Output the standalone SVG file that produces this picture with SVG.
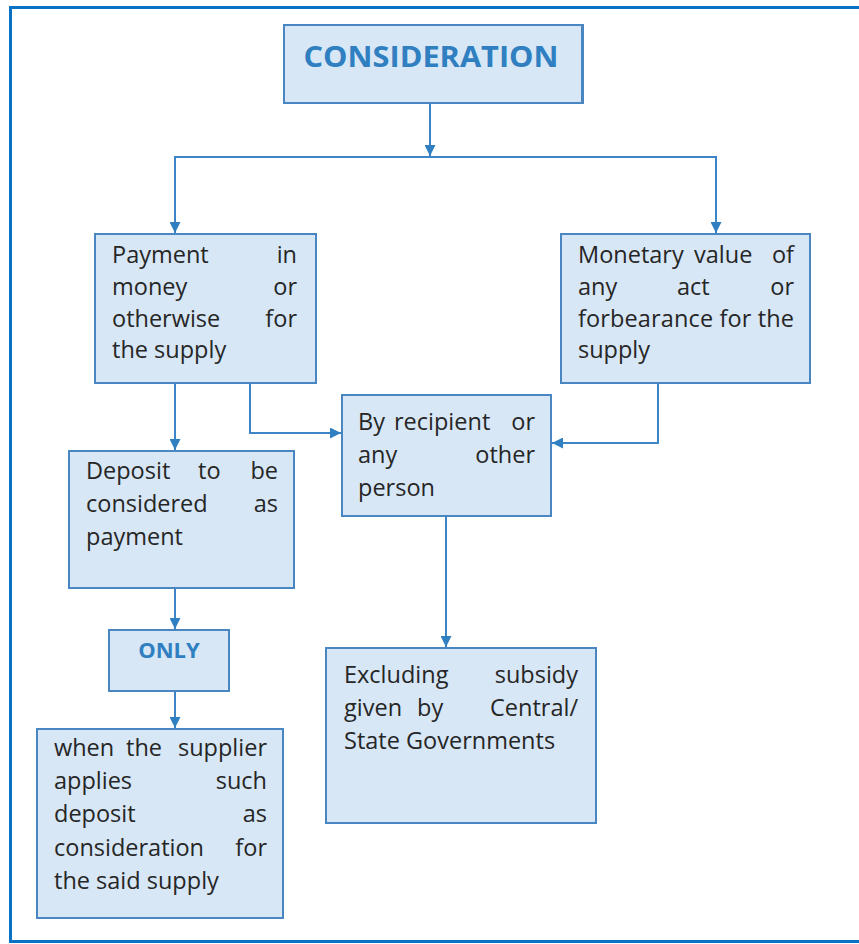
<svg xmlns="http://www.w3.org/2000/svg" width="859" height="944" viewBox="0 0 859 944">
  <style>
    .box { fill: #d7e7f6; stroke: #4a87c2; stroke-width: 2; }
    .txt { font-family: "Open Sans", "Liberation Sans", sans-serif; font-size: 23.5px; fill: #262626; }
    .end { text-anchor: end; }
    .head { font-family: "Open Sans", "Liberation Sans", sans-serif; font-weight: bold; fill: #2f7fc1; text-anchor: middle; }
    .wire { fill: none; stroke: #3d85c6; stroke-width: 2; }
  </style>
  <defs>
    <marker id="arrow" viewBox="0 0 10 10" refX="10" refY="5" markerWidth="11" markerHeight="11" markerUnits="userSpaceOnUse" orient="auto">
      <path d="M0,0 L10,5 L0,10 z" fill="#2f7fc1"/>
    </marker>
  </defs>

  <rect width="859" height="944" fill="#ffffff"/>
  <!-- page frame: open on the right -->
  <path d="M859,7.5 H10.5 V941.5 H859" fill="none" stroke="#0a72c4" stroke-width="3"/>

  <!-- connectors -->
  <g id="connectors">
    <path class="wire" d="M430,104 V156" marker-end="url(#arrow)"/>
    <path class="wire" d="M175,232 V157 H716 V232"/>
    <path class="wire" d="M175,157 V233" marker-end="url(#arrow)"/>
    <path class="wire" d="M716,157 V233" marker-end="url(#arrow)"/>
    <path class="wire" d="M175,384 V450" marker-end="url(#arrow)"/>
    <path class="wire" d="M250,384 V433 H341" marker-end="url(#arrow)"/>
    <path class="wire" d="M658,384 V443 H552" marker-end="url(#arrow)"/>
    <path class="wire" d="M446,517 V647" marker-end="url(#arrow)"/>
    <path class="wire" d="M175,589 V629" marker-end="url(#arrow)"/>
    <path class="wire" d="M175,691 V728" marker-end="url(#arrow)"/>
  </g>

  <g id="consideration">
    <rect class="box" x="284" y="25" width="299" height="78"/>
    <line x1="582" y1="25" x2="582" y2="103" stroke="#4a87c2" stroke-width="2"/>
    <text class="head" x="431" y="67" font-size="29" textLength="255" lengthAdjust="spacingAndGlyphs">CONSIDERATION</text>
  </g>

  <g id="payment">
    <rect class="box" x="95" y="234" width="221" height="149"/>
    <text class="txt" x="112" y="263">Payment</text><text class="txt end" x="297" y="263">in</text>
    <text class="txt" x="112" y="295">money</text><text class="txt end" x="297" y="295">or</text>
    <text class="txt" x="112" y="327">otherwise</text><text class="txt end" x="297" y="327">for</text>
    <text class="txt" x="112" y="358">the supply</text>
  </g>

  <g id="monetary">
    <rect class="box" x="561" y="234" width="249" height="149"/>
    <text class="txt" x="578" y="263">Monetary</text><text class="txt" x="694" y="263">value</text><text class="txt end" x="794" y="263">of</text>
    <text class="txt" x="578" y="295">any</text><text class="txt" x="677" y="295">act</text><text class="txt end" x="794" y="295">or</text>
    <text class="txt" x="578" y="327" textLength="216" lengthAdjust="spacing">forbearance for the</text>
    <text class="txt" x="578" y="358">supply</text>
  </g>

  <g id="recipient">
    <rect class="box" x="342" y="395" width="209" height="121"/>
    <text class="txt" x="358" y="430">By</text><text class="txt" x="394" y="430">recipient</text><text class="txt end" x="535" y="430">or</text>
    <text class="txt" x="358" y="463">any</text><text class="txt end" x="535" y="463">other</text>
    <text class="txt" x="358" y="496">person</text>
  </g>

  <g id="deposit">
    <rect class="box" x="69" y="451" width="225" height="137"/>
    <text class="txt" x="86" y="479">Deposit</text><text class="txt" x="198" y="479">to</text><text class="txt end" x="278" y="479">be</text>
    <text class="txt" x="86" y="512">considered</text><text class="txt end" x="278" y="512">as</text>
    <text class="txt" x="86" y="545">payment</text>
  </g>

  <g id="only">
    <rect class="box" x="109" y="630" width="120" height="61"/>
    <text class="head" x="169" y="658" font-size="22">ONLY</text>
  </g>

  <g id="supplier">
    <rect class="box" x="37" y="729" width="246" height="189"/>
    <text class="txt" x="54" y="756">when</text><text class="txt" x="126" y="756">the</text><text class="txt end" x="267" y="756">supplier</text>
    <text class="txt" x="54" y="789">applies</text><text class="txt end" x="267" y="789">such</text>
    <text class="txt" x="54" y="822">deposit</text><text class="txt end" x="267" y="822">as</text>
    <text class="txt" x="54" y="856">consideration</text><text class="txt end" x="267" y="856">for</text>
    <text class="txt" x="54" y="889">the said supply</text>
  </g>

  <g id="subsidy">
    <rect class="box" x="326" y="648" width="270" height="175"/>
    <text class="txt" x="344" y="683">Excluding</text><text class="txt end" x="578" y="683">subsidy</text>
    <text class="txt" x="344" y="716">given</text><text class="txt" x="417" y="716">by</text><text class="txt end" x="578" y="716">Central/</text>
    <text class="txt" x="344" y="749">State Governments</text>
  </g>
</svg>
